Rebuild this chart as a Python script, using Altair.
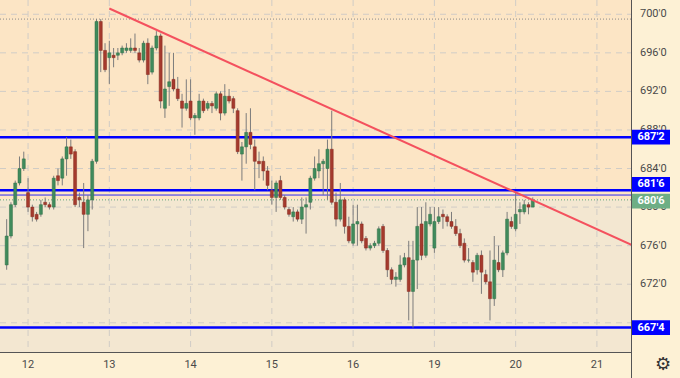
import altair as alt
import pandas as pd

# ---------------- data (hourly candles) ----------------
opens = [674.0, 677.0, 680.25, 682.5, 684.0, 681.5, 680.0, 679.25, 679.25, 680.5,
         680.25, 680.0, 683.25, 683.0, 685.0, 686.25, 685.75, 681.0, 680.5, 679.25,
         680.75, 684.75, 699.25, 696.25, 695.5, 695.75, 695.75, 696.0, 696.25, 696.25,
         696.5, 696.0, 695.25, 697.0, 694.0, 696.5, 697.75, 690.25, 692.5, 693.25,
         692.25, 691.0, 690.25, 691.0, 689.25, 689.25, 691.0, 690.25, 690.75, 690.25,
         691.75, 689.75, 691.5, 691.25, 690.0, 685.5, 686.25, 687.75, 686.25, 684.75,
         684.75, 683.75, 681.75, 681.0, 682.75, 681.0, 679.75, 679.0, 679.5, 678.75,
         680.0, 680.5, 683.0, 683.75, 684.5, 684.0, 686.0, 680.5, 678.75, 680.75,
         678.0, 676.25, 678.25, 678.25, 676.75, 675.75, 676.0, 676.25, 678.0, 675.5,
         673.5, 672.5, 672.5, 674.0, 674.75, 671.25, 674.5, 678.25, 675.0, 678.25,
         675.75, 678.5, 679.25, 679.0, 678.5, 678.0, 677.25, 676.25, 674.5, 674.25,
         673.5, 675.0, 673.0, 672.25, 670.5, 674.25, 673.5, 675.25, 678.5, 677.75,
         679.5, 679.5, 680.25, 680.0]
highs = [678.75, 680.5, 682.75, 685.25, 685.75, 683.0, 680.25, 679.5, 680.75, 681.0,
         680.5, 683.25, 684.0, 685.25, 687.25, 687.0, 686.0, 681.5, 682.5, 681.25,
         685.0, 699.5, 699.5, 697.0, 697.25, 696.5, 696.5, 696.75, 697.0, 697.5,
         698.0, 696.5, 697.25, 697.5, 696.75, 698.25, 698.0, 696.75, 696.0, 696.0,
         693.5, 691.75, 693.25, 693.25, 689.75, 691.75, 691.25, 691.0, 691.0, 692.0,
         692.0, 692.75, 692.25, 691.5, 690.25, 686.75, 689.75, 690.25, 687.0, 685.75,
         685.25, 684.25, 682.75, 682.75, 683.25, 681.25, 680.0, 680.0, 679.75, 681.0,
         681.0, 683.25, 685.25, 686.0, 685.0, 687.0, 690.0, 681.5, 682.5, 681.0,
         679.0, 680.25, 680.25, 678.5, 677.0, 676.25, 676.5, 678.0, 678.25, 675.75,
         673.75, 673.25, 675.0, 675.25, 676.5, 676.5, 680.0, 680.0, 680.5, 680.0,
         680.0, 680.0, 679.75, 679.25, 679.5, 678.75, 677.75, 676.75, 675.75, 674.5,
         675.25, 675.5, 673.5, 675.5, 677.0, 676.0, 675.5, 679.5, 679.0, 681.5,
         680.5, 680.75, 680.5, 681.0]
lows = [673.5, 676.75, 680.0, 682.25, 683.75, 679.5, 678.5, 678.5, 679.0, 680.0,
        679.75, 679.75, 682.25, 682.25, 683.25, 685.0, 680.0, 680.0, 675.75, 677.5,
        679.75, 684.5, 694.0, 694.0, 692.75, 694.5, 695.25, 695.75, 696.0, 696.0,
        696.0, 695.0, 695.0, 692.75, 693.75, 696.25, 690.25, 689.25, 690.5, 692.0,
        691.0, 688.25, 690.0, 689.0, 687.5, 689.0, 689.75, 690.0, 689.75, 690.0,
        689.0, 689.5, 690.75, 689.75, 685.5, 682.75, 684.5, 686.0, 681.75, 683.0,
        682.75, 681.75, 680.25, 679.5, 680.75, 679.75, 679.0, 678.5, 678.5, 678.25,
        677.25, 679.75, 682.75, 683.0, 681.25, 680.75, 680.25, 678.0, 678.5, 677.25,
        676.25, 676.0, 676.0, 676.25, 675.5, 675.5, 675.75, 676.0, 675.25, 672.75,
        672.0, 671.75, 672.25, 673.75, 668.25, 667.5, 671.5, 674.5, 674.75, 678.0,
        675.25, 678.25, 677.75, 678.0, 677.75, 677.0, 675.75, 674.25, 674.25, 672.25,
        673.0, 671.0, 672.0, 668.25, 669.75, 673.25, 672.75, 675.0, 677.75, 677.5,
        678.25, 679.25, 679.25, 680.0]
closes = [677.0, 680.25, 682.5, 684.0, 685.0, 680.0, 679.0, 678.75, 680.25, 680.25,
          680.0, 683.0, 682.75, 685.0, 686.25, 685.5, 680.25, 680.75, 679.25, 680.75,
          684.75, 699.25, 696.25, 694.25, 696.0, 695.5, 696.0, 696.5, 696.5, 696.5,
          696.25, 695.25, 697.0, 693.75, 696.5, 697.75, 691.0, 692.25, 693.0, 692.25,
          691.25, 690.25, 690.75, 689.25, 689.5, 691.0, 690.0, 690.75, 690.5, 691.75,
          689.75, 691.5, 691.0, 690.25, 685.75, 686.25, 687.75, 686.5, 684.75, 684.5,
          683.75, 682.25, 681.0, 682.5, 681.0, 680.0, 679.25, 679.5, 678.75, 680.0,
          680.25, 683.0, 684.0, 684.5, 684.75, 686.0, 680.5, 678.75, 680.75, 678.0,
          676.5, 678.25, 678.5, 676.5, 675.75, 676.0, 676.25, 677.75, 675.5, 673.5,
          672.5, 672.75, 674.0, 674.75, 671.25, 674.5, 678.0, 675.0, 678.5, 679.25,
          678.5, 679.0, 679.0, 678.5, 678.0, 677.25, 676.0, 674.5, 674.5, 673.25,
          675.0, 673.25, 672.25, 670.5, 674.5, 673.5, 675.25, 678.75, 678.0, 679.25,
          679.75, 680.25, 680.0, 680.75]

day_tick_idx = [5, 24, 43, 62, 81, 100, 119, 138]
day_labels = ["12", "13", "14", "15", "16", "19", "20", "21"]
price_ticks = [668, 672, 676, 680, 684, 688, 692, 696, 700]
label_ticks = [672, 676, 680, 684, 688, 692, 696, 700]
label_tick_text = ["672'0", "676'0", "680'0", "684'0", "688'0", "692'0", "696'0", "700'0"]

blue_levels = [687.25, 681.75, 667.5]
blue_labels = ["687'2", "681'6", "667'4"]
blue_label_pos = [687.25, 682.35, 667.5]   # label boxes nudged apart like the original
thin_levels = [681.25]
last_price = 680.75
last_label = "680'6"
last_label_pos = 680.62
high_mark = 699.5
trend_idx = [24, 150]
trend_price = [700.6, 675.3]

X_DOMAIN = [-0.39, 144.8]
Y_DOMAIN = [664.97, 701.48]
W, H = 631, 352
FONT = "Roboto"

# ---------------- chart ----------------
df = pd.DataFrame({"i": list(range(len(opens))), "open": opens, "high": highs,
                   "low": lows, "close": closes})
df["up"] = df["close"] >= df["open"]

xs = alt.Scale(domain=X_DOMAIN, nice=False, zero=False)
ys = alt.Scale(domain=Y_DOMAIN, nice=False, zero=False)


def X(f):
    return alt.X(f, scale=xs, axis=None)


def Y(f):
    return alt.Y(f, scale=ys, axis=None)


bg_above = alt.Chart(pd.DataFrame({"a": [last_price], "b": [Y_DOMAIN[1]]})).mark_rect(
    color="#FCE5C5").encode(x=alt.value(0), x2=alt.value(W), y=Y("a:Q"), y2="b:Q")
bg_below = alt.Chart(pd.DataFrame({"a": [Y_DOMAIN[0]], "b": [last_price]})).mark_rect(
    color="#F3E7D1").encode(x=alt.value(0), x2=alt.value(W), y=Y("a:Q"), y2="b:Q")

grid_style = dict(color="#D0CCC6", strokeDash=[6, 5], strokeWidth=1)
vgrid = alt.Chart(pd.DataFrame({"i": day_tick_idx})).mark_rule(**grid_style).encode(
    x=X("i:Q"), y=alt.value(0), y2=alt.value(H))
hgrid = alt.Chart(pd.DataFrame({"p": price_ticks})).mark_rule(**grid_style).encode(
    y=Y("p:Q"), x=alt.value(0), x2=alt.value(W))

hi_line = alt.Chart(pd.DataFrame({"p": [high_mark]})).mark_rule(
    color="#8a8a8a", strokeDash=[1, 2], strokeWidth=1).encode(
    y=Y("p:Q"), x=alt.value(0), x2=alt.value(W))
last_line = alt.Chart(pd.DataFrame({"p": [last_price]})).mark_rule(
    color="#5FA67A", strokeDash=[1, 2], strokeWidth=1).encode(
    y=Y("p:Q"), x=alt.value(0), x2=alt.value(W))

blue_lines = alt.Chart(pd.DataFrame({"p": blue_levels})).mark_rule(
    color="#0000FF", strokeWidth=2.5).encode(y=Y("p:Q"), x=alt.value(0), x2=alt.value(W))
thin_lines = alt.Chart(pd.DataFrame({"p": thin_levels})).mark_rule(
    color="#2A2AF0", strokeWidth=1).encode(y=Y("p:Q"), x=alt.value(0), x2=alt.value(W))

wicks = alt.Chart(df).mark_rule(color="#7c7c7c", strokeWidth=1).encode(
    x=X("i:Q"), y=Y("low:Q"), y2="high:Q")

body_up = alt.Chart(df).transform_filter("datum.up").mark_bar(
    size=3, color="#408B5C", stroke="#2F6E47", strokeWidth=0.5).encode(
    x=X("i:Q"), y=Y("open:Q"), y2="close:Q")
body_dn = alt.Chart(df).transform_filter("!datum.up").mark_bar(
    size=3, color="#A53A2D", stroke="#842A20", strokeWidth=0.5).encode(
    x=X("i:Q"), y=Y("open:Q"), y2="close:Q")

trend = alt.Chart(pd.DataFrame({"i": trend_idx, "p": trend_price})).mark_line(
    color="#F4515E", strokeWidth=2, clip=True).encode(x=X("i:Q"), y=Y("p:Q"))

bottom_line = alt.Chart(pd.DataFrame({"a": [0]})).mark_rule(color="#555555", strokeWidth=1).encode(
    x=alt.value(0), x2=alt.value(W), y=alt.value(H + 0.5))
right_line = alt.Chart(pd.DataFrame({"a": [0]})).mark_rule(color="#555555", strokeWidth=1).encode(
    x=alt.value(W + 0.5), y=alt.value(0), y2=alt.value(378))

# axis labels drawn as text
x_labels = alt.Chart(pd.DataFrame({"i": day_tick_idx, "t": day_labels})).mark_text(
    fontSize=11, font=FONT, color="#4a4a4a", align="center", baseline="middle").encode(
    x=X("i:Q"), y=alt.value(365), text="t:N")
y_labels = alt.Chart(pd.DataFrame({"p": label_ticks, "t": label_tick_text})).mark_text(
    fontSize=11, font=FONT, color="#4a4a4a", align="left", baseline="middle").encode(
    x=alt.value(W + 9), y=Y("p:Q"), text="t:N")

lab = pd.DataFrame({"p": blue_label_pos + [last_label_pos], "t": blue_labels + [last_label],
                    "c": ["#0000FF"] * len(blue_levels) + ["#6DAE85"]})
boxes = alt.Chart(lab).transform_calculate(lo="datum.p - 0.76", hi="datum.p + 0.76").mark_rect().encode(
    x=alt.value(W + 1), x2=alt.value(W + 39), y=Y("lo:Q"), y2="hi:Q",
    color=alt.Color("c:N", scale=None, legend=None))
box_text = alt.Chart(lab).mark_text(color="white", fontWeight="bold", fontSize=11,
                                    font=FONT, align="center", baseline="middle").encode(
    x=alt.value(W + 20), y=Y("p:Q"), text="t:N")

gear = alt.Chart(pd.DataFrame({"t": ["\u2699"]})).mark_text(
    fontSize=18, color="#333333", font="DejaVu Sans", align="center", baseline="middle").encode(
    x=alt.value(663), y=alt.value(365), text="t:N")

chart = alt.layer(
    bg_above, bg_below, vgrid, hgrid, hi_line, last_line, thin_lines, blue_lines,
    wicks, body_up, body_dn, trend, bottom_line, right_line,
    x_labels, y_labels, boxes, box_text, gear
).properties(
    width=W, height=H,
    padding={"left": 0, "top": 0, "right": 49, "bottom": 26},
    autosize=alt.AutoSizeParams(type="none"),
    background="#FDF1D5",
).configure_view(stroke=None)

chart.save("out.html", embed_options={"renderer": "svg", "actions": False})
